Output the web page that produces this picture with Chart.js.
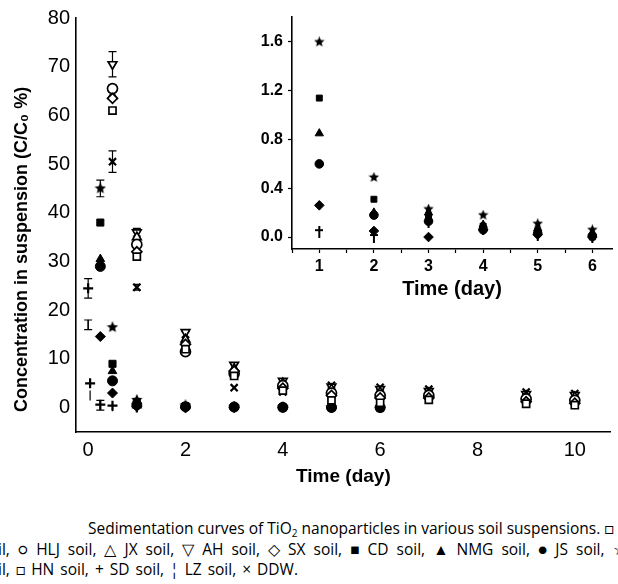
<!DOCTYPE html>
<html>
<head>
<meta charset="utf-8">
<script src="https://cdn.jsdelivr.net/npm/chart.js@4"></script>
<style>
  html, body { margin: 0; padding: 0; background: #fff; }
  #wrap { position: relative; width: 618px; height: 584px; overflow: hidden; }
  #mainChart { position: absolute; left: 0; top: 0; }
  #insetChart { position: absolute; left: 230px; top: 0; }
  .cap { position: absolute; white-space: nowrap; font-family: "Open Sans", Lato, sans-serif;
         font-size: 15.5px; color: #000; line-height: 20px; }
  .cap sub { font-size: 10px; vertical-align: -3px; line-height: 0; }
</style>
</head>
<body>
<div id="wrap">
  <canvas id="mainChart" width="618" height="500"></canvas>
  <canvas id="insetChart" width="388" height="310"></canvas>
  <div class="cap" style="left:88px; top:518px;">Sedimentation curves of TiO<sub>2</sub> nanoparticles in various soil suspensions. □</div>
  <div class="cap" style="left:-2px; top:539px; word-spacing:4px;">il, ○ HLJ soil, △ JX soil, ▽ AH soil, ◇ SX soil, ■ CD soil, ▲ NMG soil, ● JS soil, ☆</div>
  <div class="cap" style="left:-2px; top:559px; word-spacing:2px;">il, □ HN soil, + SD soil, ¦ LZ soil, × DDW.</div>
</div>
<script>
// main plot: sampling times (day) and C/C0 (%) per soil
const mainTimes = [0, 0.04, 0.25, 0.5, 1, 2, 3, 4, 5, 6, 7, 9, 10];
const hljVals  = [null, null, null, 65.5, 33.5, 11.5, 7.0, 4.5, 3.0, 2.5, 2.5, 1.8, 1.5];
const jxVals   = [null, null, null, 64.0, 35.0, 14.0, 8.0, 5.0, 3.8, 3.2, 3.0, 2.4, 2.2];
const ahVals   = [null, null, null, 70.5, 36.0, 15.5, 8.8, 5.5, 4.3, 3.8, 3.4, 2.8, 2.6];
const sxVals   = [null, null, null, 63.5, 32.0, 13.0, 7.5, 4.0, 2.5, 2.0, 2.0, 1.2, 0.9];
const hnVals   = [null, null, null, 61.0, 31.0, 12.0, 6.5, 3.5, 1.5, 1.0, 1.6, 0.8, 0.5];
const ddwVals  = [null, null, null, 50.5, 24.7, 15.0, 4.1, 3.2, 4.6, 4.2, 3.8, 3.2, 2.9];
const cdVals   = [null, null, 38.0, 9.0, 1.14, 0.31, 0.17, 0.09, 0.05, 0.0, null, null, null];
const nmgVals  = [null, null, 30.5, 7.5, 0.85, 0.20, 0.20, 0.10, 0.07, 0.03, null, null, null];
const jsVals   = [null, null, 29.0, 5.5, 0.60, 0.18, 0.13, 0.06, 0.03, 0.01, null, null, null];
const starVals = [null, null, 45.0, 16.5, 1.60, 0.49, 0.23, 0.18, 0.11, 0.06, null, null, null];
const diaVals  = [null, null, 14.6, 3.0, 0.26, 0.05, 0.0, 0.06, 0.02, 0.0, null, null, null];
const sdVals   = [24.5, 5.0, 0.6, 0.4, 0.04, 0.0, 0.12, 0.07, 0.02, 0.0, null, null, null];
const lzVals   = [17.0, 2.5, 0.5, 0.3, null, null, null, null, null, null, null, null, null];

// error bars (+/-), same slots as mainTimes
const ahErr   = [0, 0, 0, 2.6, 0.8, 0, 0, 0, 0, 0, 0, 0, 0];
const ddwErr  = [0, 0, 0, 2.2, 0.6, 0, 0, 0, 0, 0, 0, 0, 0];
const hljErr  = [0, 0, 0, 0.8, 0, 0, 0, 0, 0, 0, 0, 0, 0];
const starErr = [0, 0, 1.7, 0, 0, 0, 0, 0, 0, 0, 0, 0, 0];
const sdErr   = [2.0, 0, 0, 0, 0, 0, 0, 0, 0, 0, 0, 0, 0];
const lzErr   = [1.0, 0, 1.0, 0, 0, 0, 0, 0, 0, 0, 0, 0, 0];

const mainXTicks = [0, 2, 4, 6, 8, 10];
const mainYTicks = [0, 10, 20, 30, 40, 50, 60, 70, 80];
const mainYTitle = 'Concentration in suspension (C/C\u2080 %)';

// inset: days 1-6, low-stability soils
const insetDays = [1, 2, 3, 4, 5, 6];
const insetStar = [1.60, 0.49, 0.23, 0.18, 0.11, 0.06];
const insetCd   = [1.14, 0.31, 0.17, 0.09, 0.05, 0.00];
const insetNmg  = [0.85, 0.20, 0.20, 0.10, 0.07, 0.03];
const insetJs   = [0.60, 0.18, 0.13, 0.06, 0.03, 0.01];
const insetDia  = [0.26, 0.05, 0.00, 0.06, 0.02, 0.00];
const insetSd   = [0.04, 0.00, 0.12, 0.07, 0.02, 0.00];
const insetXTicks = [0.5, 1, 1.5, 2, 2.5, 3, 3.5, 4, 4.5, 5, 5.5, 6];
const insetYTicks = [0, 0.4, 0.8, 1.2, 1.6];

const FONT = '"Liberation Sans", Arial, sans-serif';

function starImg(size){
  const c = document.createElement('canvas');
  c.width = size; c.height = size;
  const g = c.getContext('2d');
  const r = size/2, ri = r*0.45;
  g.beginPath();
  for (let i=0;i<10;i++){
    const a = -Math.PI/2 + i*Math.PI/5;
    const rr = i%2 ? ri : r;
    g.lineTo(r + rr*Math.cos(a), r + rr*Math.sin(a));
  }
  g.closePath(); g.fillStyle = '#000'; g.fill();
  return c;
}
function daggerImg(){
  const c = document.createElement('canvas');
  c.width = 8; c.height = 12;
  const g = c.getContext('2d');
  g.fillStyle = '#000';
  g.fillRect(3, 0, 2, 12);
  g.fillRect(0, 3, 8, 2);
  return c;
}

function pts(xs, ys, errs){
  return xs.map((x,i)=>({x, y: ys[i], err: errs ? errs[i] : 0})).filter(p=>p.y!=null);
}

function ds(label, data, style, filled, extra){
  return Object.assign({
    label, data, showLine:false,
    pointStyle: style,
    pointRadius: 5,
    pointBorderWidth: filled ? 1 : 1.7,
    pointBackgroundColor: filled ? '#000' : '#fff',
    pointBorderColor: '#000',
  }, extra || {});
}

const errorBars = {
  id: 'errorBars',
  beforeDatasetsDraw(chart){
    const {ctx} = chart;
    const y = chart.scales.y;
    ctx.save();
    ctx.strokeStyle = '#000';
    ctx.lineWidth = 1.2;
    chart.data.datasets.forEach((d, di)=>{
      const meta = chart.getDatasetMeta(di);
      meta.data.forEach((p, i)=>{
        const e = d.data[i].err;
        if (!e) return;
        const v = d.data[i].y;
        const t = y.getPixelForValue(v + e), b = y.getPixelForValue(v - e);
        ctx.beginPath();
        ctx.moveTo(p.x, t); ctx.lineTo(p.x, b);
        ctx.moveTo(p.x-4, t); ctx.lineTo(p.x+4, t);
        ctx.moveTo(p.x-4, b); ctx.lineTo(p.x+4, b);
        ctx.stroke();
      });
    });
    ctx.restore();
  }
};

// y title: starts just below the zero tick and runs upward
const yTitle = {
  id: 'yTitle',
  afterDraw(chart){
    const {ctx, chartArea} = chart;
    ctx.save();
    ctx.translate(22, chartArea.bottom - 20);
    ctx.rotate(-Math.PI/2);
    ctx.font = 'bold 18px ' + FONT;
    ctx.fillStyle = '#000';
    ctx.textAlign = 'left';
    ctx.textBaseline = 'middle';
    ctx.fillText(mainYTitle, 0, 0);
    ctx.restore();
  }
};

const star10 = starImg(12);
const star9 = starImg(11);

new Chart(document.getElementById('mainChart'), {
  type: 'scatter',
  data: { datasets: [
    ds('HN soil', pts(mainTimes, hnVals), 'rect', false),
    ds('SX soil', pts(mainTimes, sxVals), 'rectRot', false),
    ds('HLJ soil', pts(mainTimes, hljVals, hljErr), 'circle', false),
    ds('JX soil', pts(mainTimes, jxVals), 'triangle', false),
    ds('AH soil', pts(mainTimes, ahVals, ahErr), 'triangle', false, {pointRotation:180}),
    ds('DDW', pts(mainTimes, ddwVals, ddwErr), 'crossRot', false, {pointBorderWidth:2.2}),
    ds('CD soil', pts(mainTimes, cdVals), 'rect', true),
    ds('NMG soil', pts(mainTimes, nmgVals), 'triangle', true),
    ds('JS soil', pts(mainTimes, jsVals), 'circle', true),
    ds('star soil', pts(mainTimes, starVals, starErr), star10, true),
    ds('diamond soil', pts(mainTimes, diaVals), 'rectRot', true),
    ds('SD soil', pts(mainTimes, sdVals, sdErr), 'cross', false, {pointBorderWidth:2.2}),
    ds('LZ soil', pts(mainTimes, lzVals, lzErr), 'line', false, {pointRotation:90, pointBorderWidth:1.2}),
  ]},
  options: {
    responsive: false,
    animation: false,
    layout: { padding: { top: 18, right: 6, left: 0, bottom: 0 } },
    plugins: { legend: { display: false }, tooltip: { enabled: false } },
    scales: {
      x: {
        type: 'linear', min: -0.25, max: 10.74,
        afterBuildTicks: s => { s.ticks = mainXTicks.map(v=>({value:v})); },
        afterFit: s => { s.height = 68; },
        ticks: { font: { family: FONT, size: 20 }, color: '#000', padding: 6 },
        grid: { drawOnChartArea: false, drawTicks: false },
        border: { color: '#000', width: 1.6 },
        title: { display: true, text: 'Time (day)', color: '#000',
                 font: { family: FONT, size: 19, weight: 'bold' }, padding: { top: 0, bottom: 12 } }
      },
      y: {
        type: 'linear', min: -5, max: 80,
        afterBuildTicks: s => { s.ticks = mainYTicks.map(v=>({value:v})); },
        afterFit: s => { s.width = 76; },
        ticks: { font: { family: FONT, size: 20 }, color: '#000', padding: 6 },
        grid: { drawOnChartArea: false, drawTicks: false },
        border: { color: '#000', width: 1.6 }
      }
    }
  },
  plugins: [errorBars, yTitle]
});

new Chart(document.getElementById('insetChart'), {
  type: 'scatter',
  data: { datasets: [
    ds('star soil', pts(insetDays, insetStar), star9, true),
    ds('CD soil', pts(insetDays, insetCd), 'rect', true, {pointRadius:4.2}),
    ds('NMG soil', pts(insetDays, insetNmg), 'triangle', true, {pointRadius:4.8}),
    ds('JS soil', pts(insetDays, insetJs), 'circle', true, {pointRadius:4.3}),
    ds('diamond soil', pts(insetDays, insetDia), 'rectRot', true, {pointRadius:4.8}),
    ds('SD soil', pts(insetDays, insetSd), daggerImg(), true),
  ]},
  options: {
    responsive: false,
    animation: false,
    layout: { padding: { top: 17, right: 0, left: 0, bottom: 0 } },
    plugins: { legend: { display: false }, tooltip: { enabled: false } },
    scales: {
      x: {
        type: 'linear', min: 0.5, max: 6.36,
        afterBuildTicks: s => { s.ticks = insetXTicks.map(v=>({value:v})); },
        afterFit: s => { s.height = 61; },
        ticks: { font: { family: FONT, size: 16, weight: 'bold' }, color: '#000', padding: 4,
                 callback: v => Number.isInteger(v) ? String(v) : '' },
        grid: { drawOnChartArea: false, drawTicks: true, tickLength: 4, color: '#000', tickWidth: 1.2 },
        border: { color: '#000', width: 1.6 },
        title: { display: true, text: 'Time (day)', color: '#000',
                 font: { family: FONT, size: 20, weight: 'bold' }, padding: { top: 0, bottom: 9 } }
      },
      y: {
        type: 'linear', min: -0.098, max: 1.805,
        afterBuildTicks: s => { s.ticks = insetYTicks.map(v=>({value:v})); },
        afterFit: s => { s.width = 62; },
        ticks: { font: { family: FONT, size: 16, weight: 'bold' }, color: '#000', padding: 5,
                 callback: v => v.toFixed(1) },
        grid: { drawOnChartArea: false, drawTicks: true, tickLength: 4, color: '#000', tickWidth: 1.2 },
        border: { color: '#000', width: 1.6 }
      }
    }
  }
});
</script>
</body>
</html>
